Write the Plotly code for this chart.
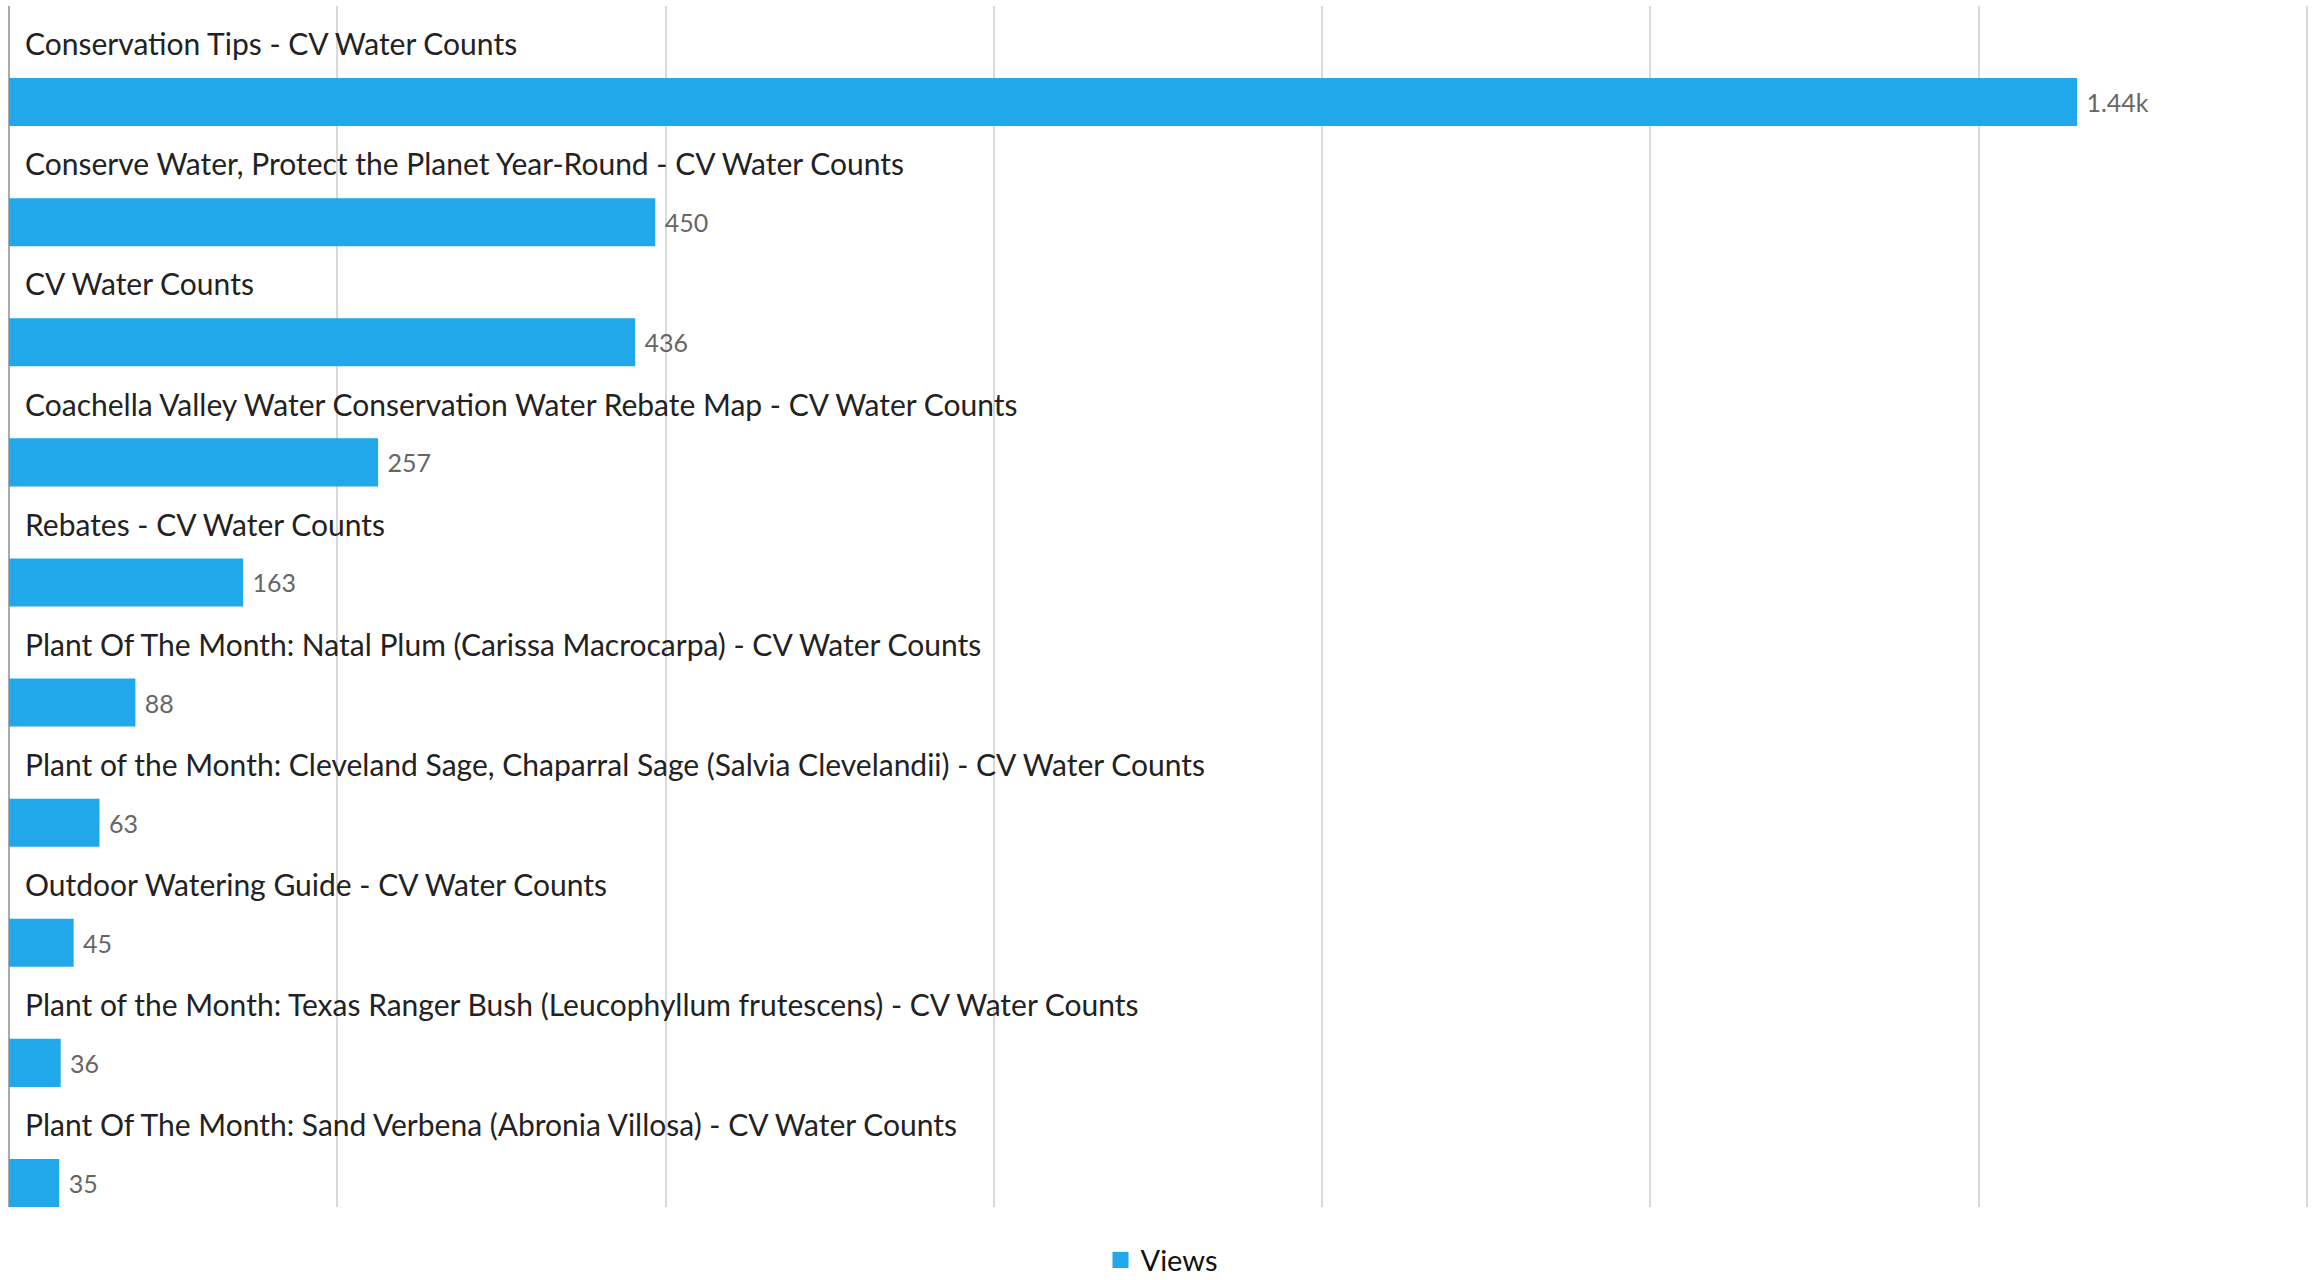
import plotly.graph_objects as go

categories = [
    "Conservation Tips - CV Water Counts",
    "Conserve Water, Protect the Planet Year-Round - CV Water Counts",
    "CV Water Counts",
    "Coachella Valley Water Conservation Water Rebate Map - CV Water Counts",
    "Rebates - CV Water Counts",
    "Plant Of The Month: Natal Plum (Carissa Macrocarpa) - CV Water Counts",
    "Plant of the Month: Cleveland Sage, Chaparral Sage (Salvia Clevelandii) - CV Water Counts",
    "Outdoor Watering Guide - CV Water Counts",
    "Plant of the Month: Texas Ranger Bush (Leucophyllum frutescens) - CV Water Counts",
    "Plant Of The Month: Sand Verbena (Abronia Villosa) - CV Water Counts",
]
views = [1440, 450, 436, 257, 163, 88, 63, 45, 36, 35]
series_name = "Views"
x_max = 1600
n_grid = 7
bar_color = "#20A8EA"


def fmt(v):
    if v >= 1000:
        return f"{v / 1000:.3g}k"
    return str(v)


positions = list(range(len(categories)))
value_text = ["\u00a0" + fmt(v) for v in views]

fig = go.Figure()
fig.add_trace(go.Bar(
    x=views,
    y=positions,
    orientation="h",
    name=series_name,
    showlegend=False,
    width=0.4,
    offset=0.1,
    marker=dict(color=bar_color, line=dict(width=0)),
    text=value_text,
    textposition="outside",
    cliponaxis=False,
    textfont=dict(family="Lato", size=25, color="#666666"),
    customdata=categories,
    hovertemplate="%{customdata}<br>%{x}<extra>Views</extra>",
))
# legend entry with a larger square swatch
fig.add_trace(go.Scatter(
    x=[None], y=[None], mode="markers", name=series_name,
    marker=dict(symbol="square", size=20, color=bar_color),
    showlegend=True, hoverinfo="skip",
))

for i, cat in enumerate(categories):
    fig.add_annotation(
        x=0, y=i - 0.19, xref="x", yref="y",
        text=cat, showarrow=False,
        xanchor="left", yanchor="middle", xshift=14,
        font=dict(family="Lato", size=30, color="#222222"),
    )

fig.update_layout(
    width=2315, height=1280,
    margin=dict(l=9, r=1, t=6, b=73, autoexpand=False),
    paper_bgcolor="white", plot_bgcolor="white",
    showlegend=True,
    legend=dict(
        orientation="h", x=0.5, xanchor="center",
        yref="container", y=0.0156, yanchor="middle",
        font=dict(family="Lato", size=29, color="#111111"),
        itemwidth=30,
    ),
    xaxis=dict(
        range=[0, x_max + 5], tick0=0, dtick=x_max / n_grid,
        showticklabels=False, showgrid=True, gridcolor="#d9d9d9", gridwidth=2,
        zeroline=True, zerolinecolor="#aaaaaa", zerolinewidth=2,
        fixedrange=True,
    ),
    yaxis=dict(
        range=[len(categories) - 0.5, -0.5],
        showticklabels=False, showgrid=False, zeroline=False,
        fixedrange=True,
    ),
)

fig.write_html(
    "out.html",
    config={"displayModeBar": False},
    post_script="document.body.style.margin='0';document.body.style.overflow='hidden';",
)
